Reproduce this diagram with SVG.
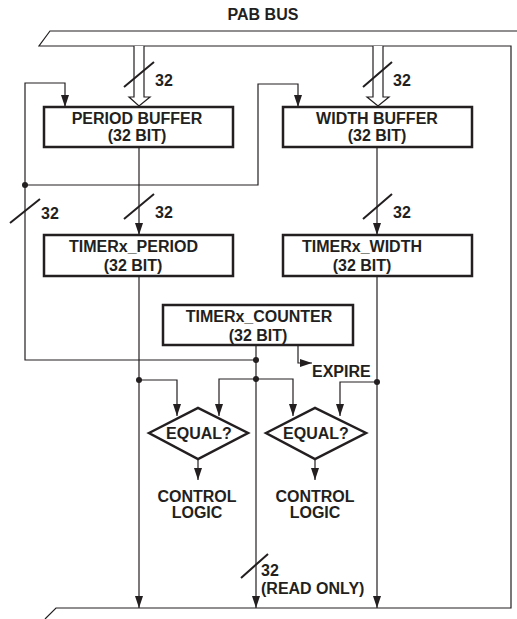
<svg xmlns="http://www.w3.org/2000/svg" width="517" height="619" viewBox="0 0 517 619">
<defs>
<style>
.t{font-family:"Liberation Sans",Arial,sans-serif;font-weight:bold;font-size:16px;fill:#231f20}
.m{text-anchor:middle}
.box{fill:#fff;stroke:#231f20;stroke-width:2.5}
.ln{fill:none;stroke:#231f20;stroke-width:1.2}
.sl{fill:none;stroke:#231f20;stroke-width:2}
.ar{fill:none;stroke:#231f20;stroke-width:1.2;marker-end:url(#ah)}
.dot{fill:#231f20}
</style>
<marker id="ah" markerWidth="12" markerHeight="8" refX="12" refY="4" orient="auto" markerUnits="userSpaceOnUse"><path d="M0,0 L12,4 L0,8 z" fill="#231f20"/></marker>
</defs>
<rect width="517" height="619" fill="#fff"/>
<g id="pab-bus">
<path class="ln" d="M517,31 H50 L39,46 H511 V608 H56 L45,619"/>
<text class="t m" x="263" y="20">PAB BUS</text>
</g>
<g id="connectors">
<path d="M134,46 V97 H129 L139,106 L150,97 H144 V46" fill="#fff" stroke="#231f20" stroke-width="1.2"/>
<path d="M373,46 V97 H367 L378,106 L389,97 H383 V46" fill="#fff" stroke="#231f20" stroke-width="1.2"/>
<path class="sl" d="M124,87 L154,62 M363,87 L392,62"/>
<path class="ar" d="M256,360 H25 V83 H65 V107"/>
<path class="ar" d="M25,185 H258 V84 H298 V107"/>
<path class="ar" d="M139,147 V235"/>
<path class="ar" d="M377,147 V235"/>
<path class="ar" d="M139,276 V608"/>
<path class="ar" d="M377,276 V608"/>
<path class="ar" d="M256,345 V608"/>
<path class="ar" d="M139,380 H177 V416"/>
<path class="ar" d="M256,379 H219 V416"/>
<path class="ar" d="M256,379 H293 V416"/>
<path class="ar" d="M377,382 H340 V416"/>
<path class="ar" d="M298,345 V363 H312"/>
<path class="ar" d="M198,459 V480"/>
<path class="ar" d="M315,459 V480"/>
<path class="sl" d="M124,219 L154,194 M10,223 L40,199 M363,219 L392,194 M241,578 L268,554"/>
<circle class="dot" cx="25" cy="185" r="3"/>
<circle class="dot" cx="256" cy="360" r="3"/>
<circle class="dot" cx="256" cy="379" r="3"/>
<circle class="dot" cx="139" cy="380" r="3"/>
<circle class="dot" cx="377" cy="382" r="3"/>
<text class="t" x="155" y="86">32</text>
<text class="t" x="393" y="86">32</text>
<text class="t" x="155" y="218">32</text>
<text class="t" x="41" y="219">32</text>
<text class="t" x="393" y="218">32</text>
<text class="t" x="261" y="576">32</text>
<text class="t" x="261" y="594">(READ ONLY)</text>
<text class="t" x="312" y="377">EXPIRE</text>
</g>
<g id="period-buffer">
<rect class="box" x="44" y="107" width="189" height="40"/>
<text class="t m" x="137" y="124">PERIOD BUFFER</text>
<text class="t m" x="137" y="141">(32 BIT)</text>
</g>
<g id="width-buffer">
<rect class="box" x="283" y="107" width="189" height="40"/>
<text class="t m" x="377" y="124">WIDTH BUFFER</text>
<text class="t m" x="377" y="141">(32 BIT)</text>
</g>
<g id="timer-period">
<rect class="box" x="44" y="235" width="189" height="41"/>
<text class="t m" x="133.5" y="252">TIMERx_PERIOD</text>
<text class="t m" x="133" y="271">(32 BIT)</text>
</g>
<g id="timer-width">
<rect class="box" x="283" y="235" width="189" height="41"/>
<text class="t m" x="362" y="252">TIMERx_WIDTH</text>
<text class="t m" x="362" y="271">(32 BIT)</text>
</g>
<g id="timer-counter">
<rect class="box" x="163" y="305" width="190" height="40"/>
<text class="t m" x="259" y="322">TIMERx_COUNTER</text>
<text class="t m" x="258" y="341">(32 BIT)</text>
</g>
<g id="equal-1">
<path class="box" d="M149,433 L198,408 L248,433 L198,459 Z"/>
<text class="t m" x="199" y="439">EQUAL?</text>
</g>
<g id="equal-2">
<path class="box" d="M266,433 L315,408 L366,433 L315,459 Z"/>
<text class="t m" x="316" y="439">EQUAL?</text>
</g>
<g id="control-logic-1">
<text class="t m" x="197" y="502">CONTROL</text>
<text class="t m" x="197" y="518">LOGIC</text>
</g>
<g id="control-logic-2">
<text class="t m" x="315" y="502">CONTROL</text>
<text class="t m" x="315" y="518">LOGIC</text>
</g>
</svg>
